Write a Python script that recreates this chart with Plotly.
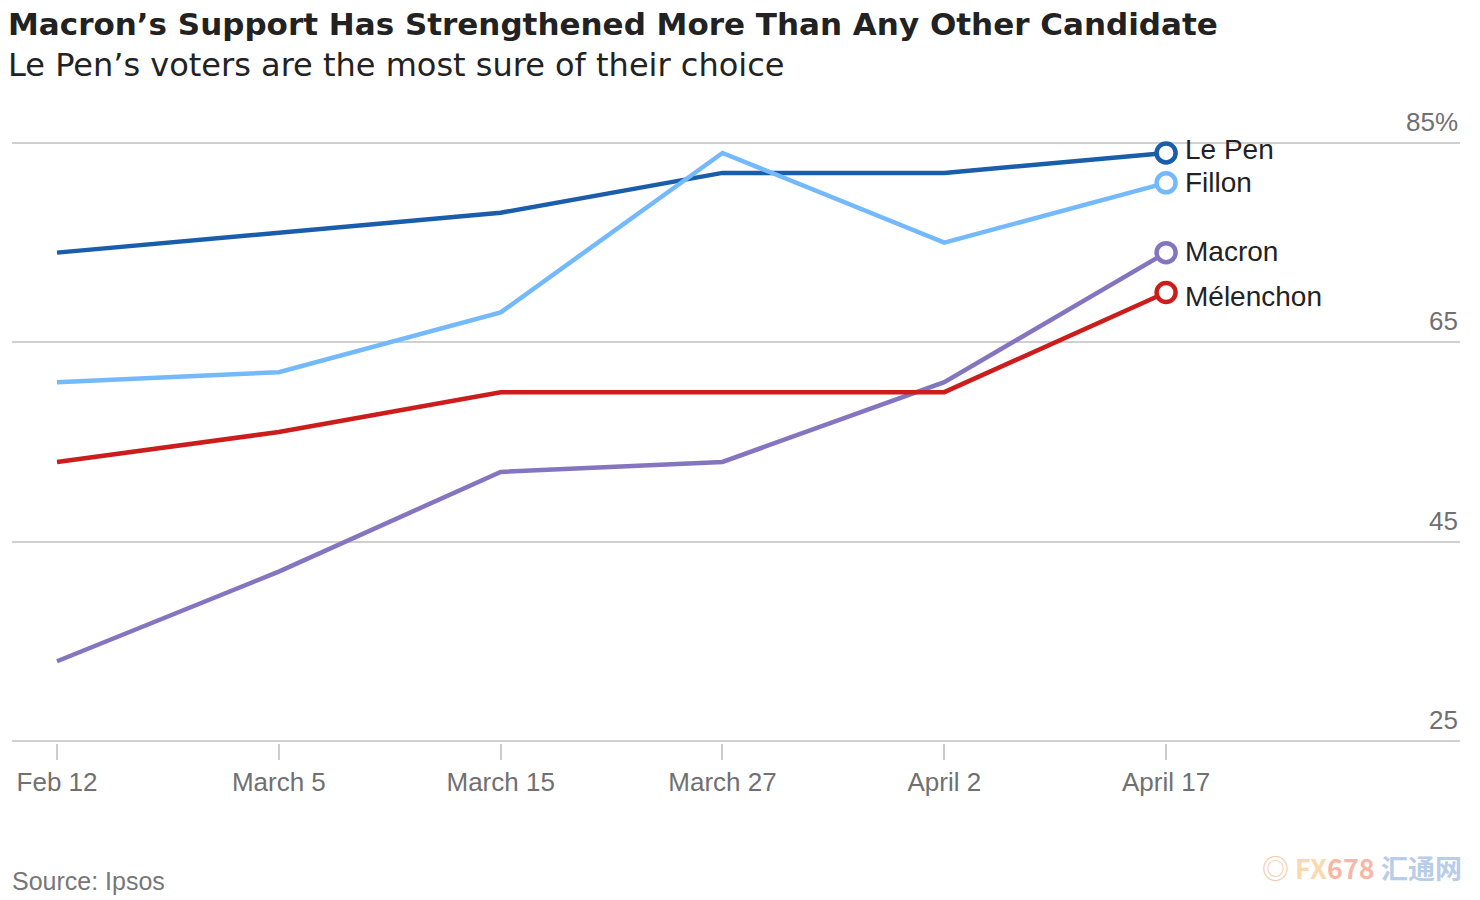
import plotly.graph_objects as go

dates = ["Feb 12", "March 5", "March 15", "March 27", "April 2", "April 17"]
le_pen = [74, 76, 78, 82, 82, 84]
fillon = [61, 62, 68, 84, 75, 81]
macron = [33, 42, 52, 53, 61, 74]
melenchon = [53, 56, 60, 60, 60, 70]

series = [
    ("Le Pen", le_pen, "#1a5dab"),
    ("Fillon", fillon, "#74b9fb"),
    ("Macron", macron, "#8475c1"),
    ("Mélenchon", melenchon, "#cc1c1c"),
]
y_ticks = [25, 45, 65, 85]
y_tick_labels = ["25", "45", "65", "85%"]

xs = list(range(len(dates)))
fig = go.Figure()
FONT = "Liberation Sans, Arial, sans-serif"
TFONT = "DejaVu Sans, sans-serif"

for name, vals, color in series:
    fig.add_trace(go.Scatter(
        x=xs, y=vals, mode="lines", line=dict(color=color, width=4.5),
        showlegend=False, hoverinfo="skip"))
    fig.add_trace(go.Scatter(
        x=[xs[-1]], y=[vals[-1]], mode="markers",
        marker=dict(size=19, color="white", line=dict(color=color, width=4.5)),
        showlegend=False, hoverinfo="skip"))

annotations = []
label_offsets = {"Le Pen": 3, "Fillon": 0, "Macron": 1, "Mélenchon": -4}
for name, vals, color in series:
    annotations.append(dict(
        x=xs[-1], y=vals[-1], xref="x", yref="y", text=name, showarrow=False,
        xanchor="left", yanchor="middle", xshift=17, yshift=label_offsets[name],
        font=dict(family=FONT, size=28, color="#222222")))

for v, t in zip(y_ticks, y_tick_labels):
    annotations.append(dict(
        x=1, y=v, xref="paper", yref="y", text=t, showarrow=False,
        xanchor="right", yanchor="bottom", yshift=4,
        font=dict(family=FONT, size=26, color="#707070")))

fig.update_layout(
    width=1480, height=900,
    margin=dict(l=12, r=20, t=141, b=157),
    paper_bgcolor="white", plot_bgcolor="white",
    xaxis=dict(
        range=[-0.203, 6.325], tickmode="array", tickvals=xs, ticktext=dates,
        showgrid=False, zeroline=False, showline=False,
        ticks="outside", ticklen=16, tickwidth=2, tickcolor="#cccccc",
        tickfont=dict(family=FONT, size=26, color="#707070"),
        fixedrange=True),
    yaxis=dict(
        range=[24.8, 85.2], tickmode="array", tickvals=y_ticks,
        showticklabels=False, showgrid=True, gridcolor="#d0d0d0", gridwidth=2,
        zeroline=False, showline=False, fixedrange=True),
    annotations=annotations,
)

fig.add_annotation(x=0, y=1, xref="paper", yref="paper", xanchor="left", yanchor="top",
                   xshift=-6, yshift=137, showarrow=False,
                   text="<b>Macron’s Support Has Strengthened More Than Any Other Candidate</b>",
                   font=dict(family=TFONT, size=31, color="#222222"))
fig.add_annotation(x=0, y=1, xref="paper", yref="paper", xanchor="left", yanchor="top",
                   xshift=-6, yshift=141 - 44, showarrow=False,
                   text="Le Pen’s voters are the most sure of their choice",
                   font=dict(family=TFONT, size=32, color="#222222"))
fig.add_annotation(x=0, y=0, xref="paper", yref="paper", xanchor="left", yanchor="top",
                   xshift=-2, yshift=-122, showarrow=False,
                   text="Source: Ipsos",
                   font=dict(family=FONT, size=25, color="#777777"))
fig.add_annotation(x=1, y=0, xref="paper", yref="paper", xanchor="right", yanchor="top",
                   xshift=4, yshift=-103, showarrow=False,
                   text="<span style='color:#f5c9a8'>◎ </span><b><span style='color:#fbd9b0'>FX</span><span style='color:#f8b7a5'>678</span> <span style='color:#b8cde8'>汇通网</span></b>",
                   font=dict(family="Noto Sans CJK SC, sans-serif", size=27))

fig.write_html("out.html", config={"displayModeBar": False})
with open("out.html", "r", encoding="utf-8") as f:
    html = f.read()
html = html.replace("<head>", "<head><style>html,body{margin:0;padding:0;}</style>", 1)
with open("out.html", "w", encoding="utf-8") as f:
    f.write(html)
